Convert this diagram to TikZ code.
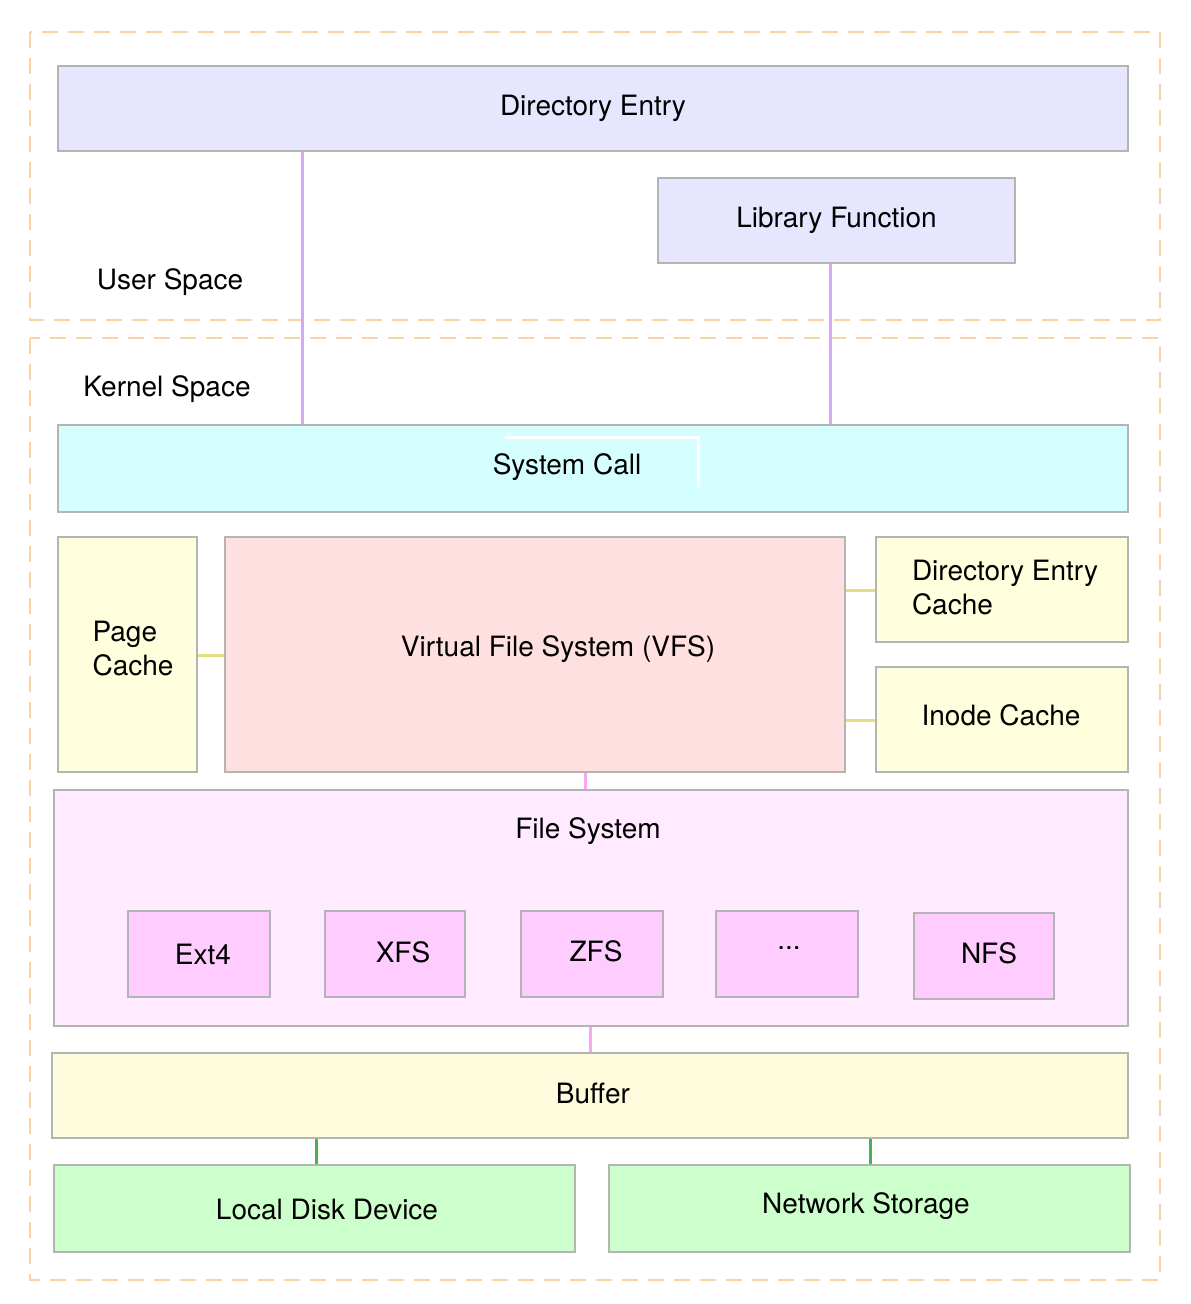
\documentclass[tikz,border=0pt]{standalone}
\usepackage{fontspec}
\setmainfont{TeX Gyre Heros}
\usetikzlibrary{fit}
\definecolor{bord}{HTML}{B4B4B4}
\definecolor{dash}{HTML}{FAD2A8}
\definecolor{userc}{HTML}{E6E6FF}
\definecolor{sysc}{HTML}{D5FFFF}
\definecolor{yelc}{HTML}{FFFFDD}
\definecolor{vfsc}{HTML}{FFE0E0}
\definecolor{fsc}{HTML}{FFEAFF}
\definecolor{fsi}{HTML}{FFCCFF}
\definecolor{bufc}{HTML}{FFFCDD}
\definecolor{grnc}{HTML}{CCFFCC}
\definecolor{purl}{HTML}{D8A8F8}
\definecolor{yell}{HTML}{E0E080}
\definecolor{pinkl}{HTML}{F8A8F0}
\definecolor{grnl}{HTML}{4CAF50}
\tikzset{
  box/.style={draw=bord, line width=1.2pt, inner sep=0pt},
  zone/.style={draw=dash, dashed, line width=1.2pt, dash pattern=on 8pt off 5pt},
  txt/.style={font=\fontsize{14}{17}\selectfont, align=left},
  con/.style={line width=1.5pt}
}
\begin{document}
\begin{tikzpicture}[x=0.5pt,y=-0.5pt]
\useasboundingbox (0,0) rectangle (1190,1304);
\draw[zone] (30,32) rectangle (1160,320);
\draw[zone] (30,338) rectangle (1160,1280);
\node[txt] (us) at (170,282) {User Space};
\node[txt] (ks) at (167,389) {Kernel Space};
\node[box,fill=userc,fit={(58,66) (1128,151)}] (de) {};
\node[txt] at (de.center) {Directory Entry};
\node[box,fill=userc,fit={(658,178) (1015,263)}] (lf) {};
\node[txt] at (lf.center) {Library Function};
\node[box,fill=sysc,fit={(58,425) (1128,512)}] (sc) {};
\node[txt] at (567,467) {System Call};
\draw[white,line width=1.5pt] (505,437) -- (698,437) -- (698,488);
\node[box,fill=yelc,fit={(58,537) (197,772)}] (pc) {};
\node[txt] at (133,649) {Page\\Cache};
\node[box,fill=vfsc,fit={(225,537) (845,772)}] (vfs) {};
\node[txt] at (558,649) {Virtual File System (VFS)};
\node[box,fill=yelc,fit={(876,537) (1128,642)}] (dec) {};
\node[txt] at (1005,588) {Directory Entry\\Cache};
\node[box,fill=yelc,fit={(876,667) (1128,772)}] (ic) {};
\node[txt] at (1001,715) {Inode Cache};
\node[box,fill=fsc,fit={(54,790) (1128,1026)}] (fs) {};
\node[txt] at (588,831) {File System};
\node[box,fill=fsi,fit={(128,911) (270,997)}] (e4) {};
\node[txt] at (203,954) {Ext4};
\node[box,fill=fsi,fit={(325,911) (465,997)}] (xfs) {};
\node[txt] at (403,952) {XFS};
\node[box,fill=fsi,fit={(521,911) (663,997)}] (zfs) {};
\node[txt] at (596,951) {ZFS};
\node[box,fill=fsi,fit={(716,911) (858,997)}] (dots) {};
\node[txt] at (789,948) {...};
\node[box,fill=fsi,fit={(914,913) (1054,999)}] (nfs) {};
\node[txt] at (989,953) {NFS};
\node[box,fill=bufc,fit={(52,1053) (1128,1138)}] (buf) {};
\node[txt] at (593,1093) {Buffer};
\node[box,fill=grnc,fit={(54,1165) (575,1252)}] (ld) {};
\node[txt] at (327,1209) {Local Disk Device};
\node[box,fill=grnc,fit={(609,1165) (1130,1252)}] (ns) {};
\node[txt] at (866,1206) {Network Storage};
\draw[con,purl] (302,0 |- de.south) -- (302,0 |- sc.north);
\draw[con,purl] (830,0 |- lf.south) -- (830,0 |- sc.north);
\draw[con,yell] (0,655 -| pc.east) -- (0,655 -| vfs.west);
\draw[con,yell] (0,590 -| vfs.east) -- (0,590 -| dec.west);
\draw[con,yell] (0,720 -| vfs.east) -- (0,720 -| ic.west);
\draw[con,pinkl] (585,0 |- vfs.south) -- (585,0 |- fs.north);
\draw[con,pinkl] (590,0 |- fs.south) -- (590,0 |- buf.north);
\draw[con,grnl] (316,0 |- buf.south) -- (316,0 |- ld.north);
\draw[con,grnl] (870,0 |- buf.south) -- (870,0 |- ns.north);
\end{tikzpicture}
\end{document}
